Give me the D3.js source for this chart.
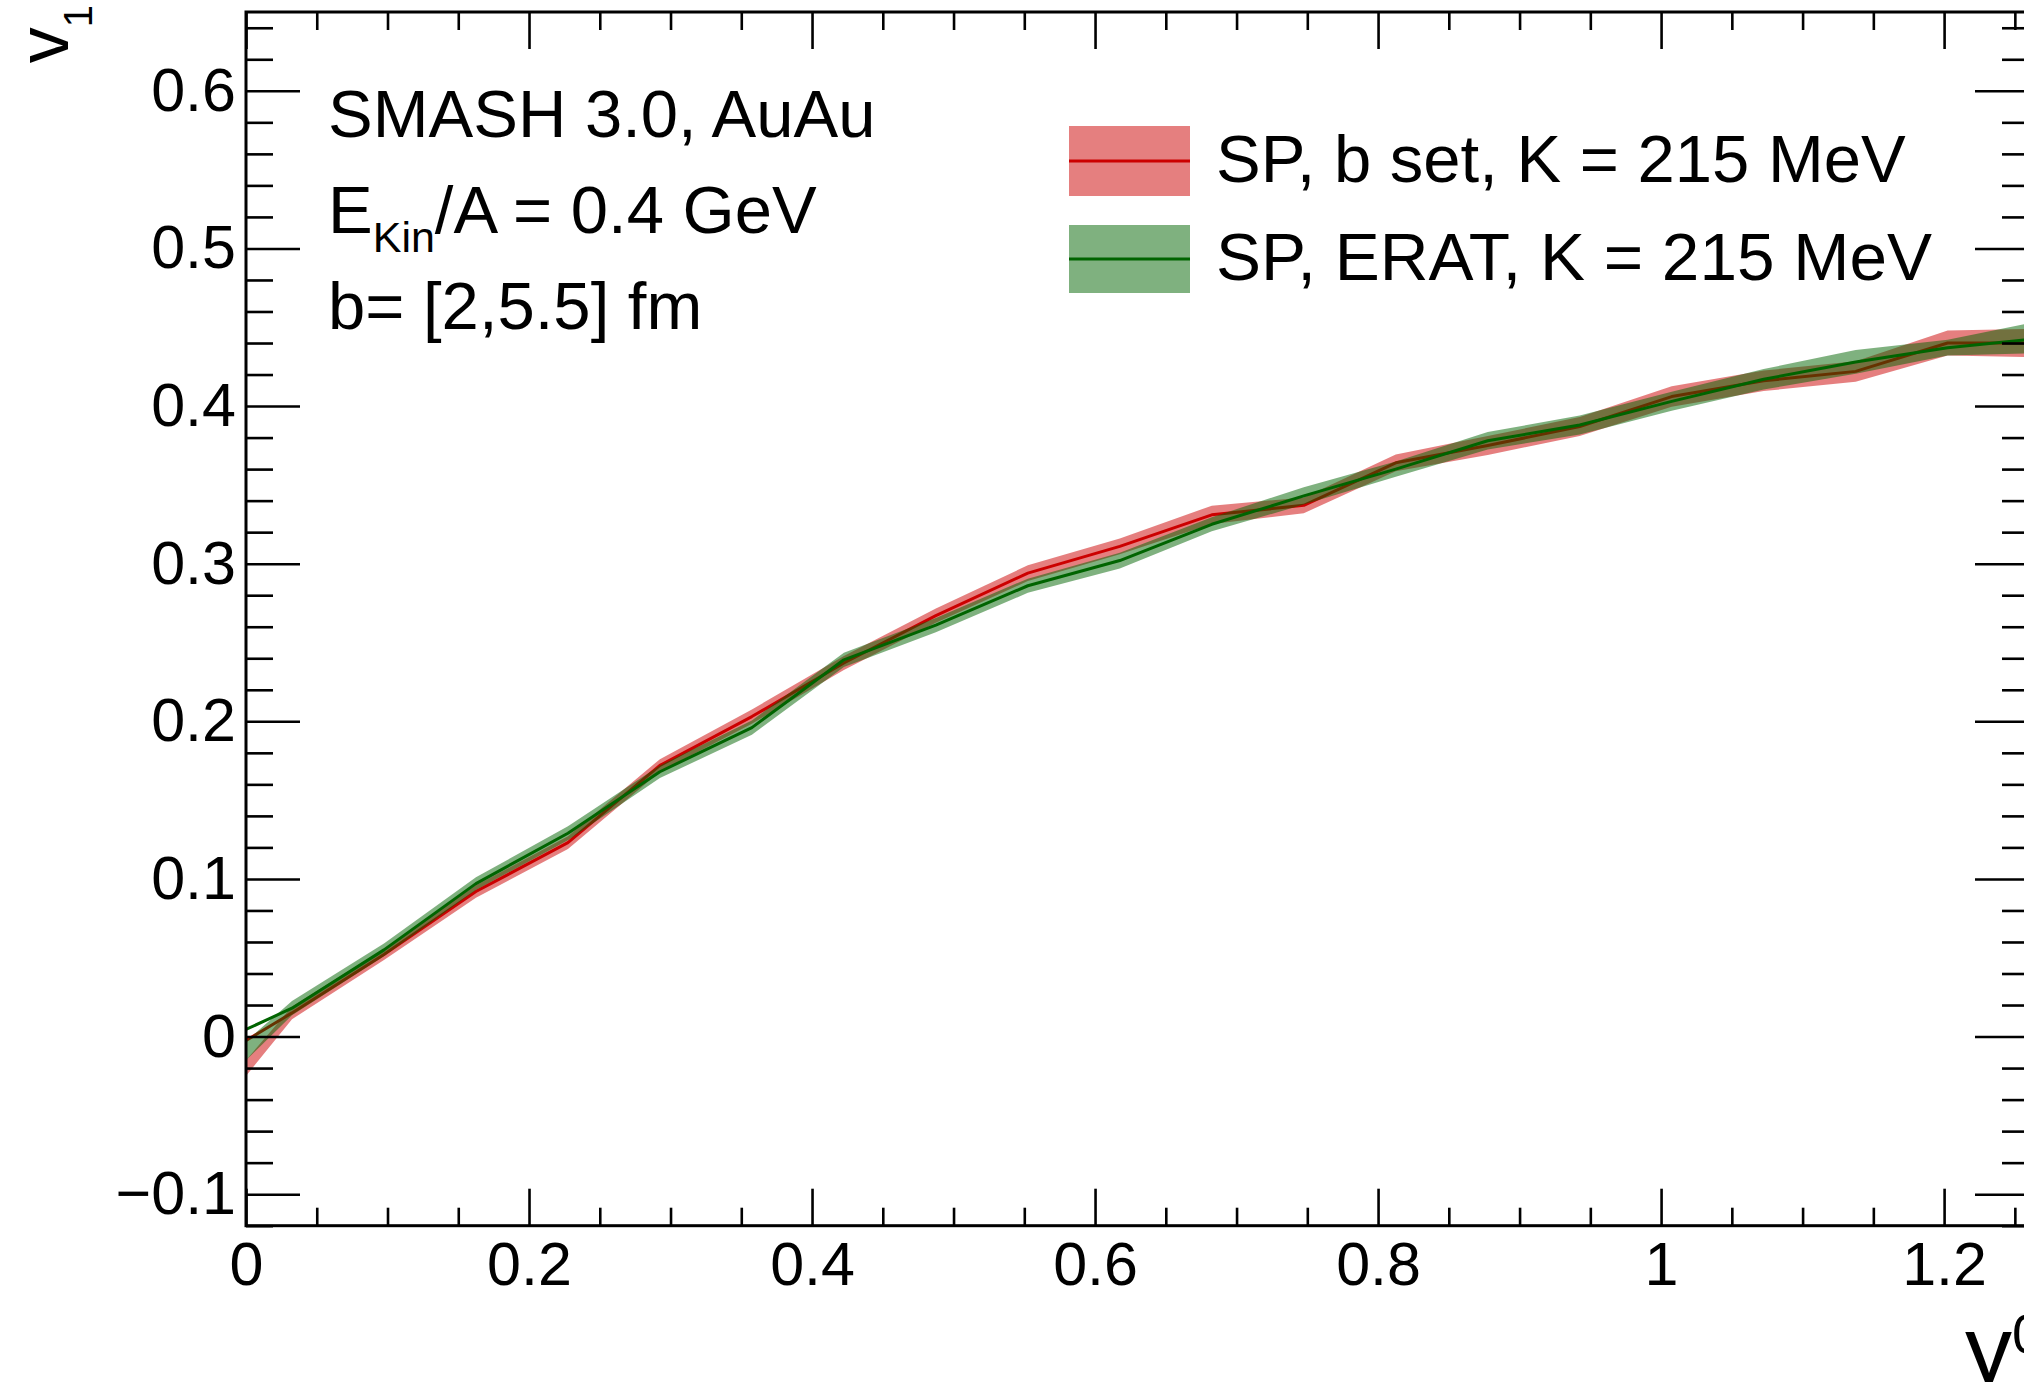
<!DOCTYPE html>
<html><head><meta charset="utf-8">
<script src="https://cdn.jsdelivr.net/npm/d3@7"></script>
<style>
html,body{margin:0;padding:0;background:#fff;}
svg{display:block;}
text{font-family:"Liberation Sans",Arial,Helvetica,sans-serif;fill:#000;}
</style>
</head><body>
<svg id="chart" width="2024" height="1382"></svg>
<script>
// ---- data ----
const rapidity = [-0.0325, 0.0325, 0.0975, 0.1625, 0.2275, 0.2925, 0.3575, 0.4225, 0.4875, 0.5525,
                  0.6175, 0.6825, 0.7475, 0.8125, 0.8775, 0.9425, 1.0075, 1.0725, 1.1375, 1.2025, 1.2675];
const v1BSet  = [-0.020, 0.015, 0.052, 0.092, 0.123, 0.172, 0.203, 0.237, 0.267, 0.294,
                  0.311, 0.331, 0.337, 0.364, 0.375, 0.387, 0.406, 0.416, 0.422, 0.440, 0.440];
const errBSet = [0.005, 0.004, 0.0035, 0.004, 0.004, 0.004, 0.0045, 0.0045, 0.0045, 0.005,
                  0.005, 0.0058, 0.005, 0.0053, 0.006, 0.006, 0.0065, 0.0065, 0.0065, 0.008, 0.009];
const v1Erat  = [-0.009, 0.018, 0.055, 0.097, 0.129, 0.168, 0.196, 0.239, 0.261, 0.286,
                  0.302, 0.325, 0.343, 0.360, 0.378, 0.388, 0.403, 0.417, 0.428, 0.437, 0.443];
const errErat = [0.006, 0.0045, 0.004, 0.004, 0.0045, 0.004, 0.0045, 0.0045, 0.0045, 0.0045,
                  0.005, 0.0045, 0.0055, 0.0048, 0.0055, 0.006, 0.006, 0.0065, 0.0075, 0.005, 0.0095];
const seriesNames = ["SP, b set, K = 215 MeV", "SP, ERAT, K = 215 MeV"];
const xMajorTicks = [0, 0.2, 0.4, 0.6, 0.8, 1.0, 1.2];
const xTickLabels = ["0", "0.2", "0.4", "0.6", "0.8", "1", "1.2"];
const yMajorTicks = [-0.1, 0, 0.1, 0.2, 0.3, 0.4, 0.5, 0.6];
const yTickLabels = ["\u22120.1", "0", "0.1", "0.2", "0.3", "0.4", "0.5", "0.6"];
const infoLines = ["SMASH 3.0, AuAu", "E", "Kin", "/A = 0.4 GeV", "b= [2,5.5] fm"];

// ---- layout ----
const svg = d3.select("#chart");
svg.append("rect").attr("width", 2024).attr("height", 1382).attr("fill", "#fff");
const frame = {left: 246, right: 2029, top: 12, bottom: 1225.7};
const x = d3.scaleLinear().domain([0, 1.26]).range([frame.left, frame.right]);
const xBand = x.copy().clamp(true);
const y = d3.scaleLinear().domain([-0.12, 0.65]).range([frame.bottom, frame.top]);
const font = '"Liberation Sans",Arial,Helvetica,sans-serif';

svg.append("defs").append("clipPath").attr("id", "frameClip")
  .append("rect").attr("x", frame.left).attr("y", frame.top)
  .attr("width", frame.right - frame.left).attr("height", frame.bottom - frame.top);

const series = [
  {v: v1BSet, e: errBSet, line: "#cc0000", fill: "rgba(204,0,0,0.5)"},
  {v: v1Erat, e: errErat, line: "#006400", fill: "rgba(0,100,0,0.5)"}
];
const area = d3.area().x(d => xBand(d.r)).y0(d => y(d.v - d.e)).y1(d => y(d.v + d.e));
const line = d3.line().x(d => x(d.r)).y(d => y(d.v));
const plot = svg.append("g").attr("clip-path", "url(#frameClip)");
series.forEach(s => {
  const pts = rapidity.map((r, i) => ({r, v: s.v[i], e: s.e[i]}));
  plot.append("path").datum(pts).attr("d", area).attr("fill", s.fill).attr("stroke", "none");
  plot.append("path").datum(pts).attr("d", line).attr("fill", "none")
    .attr("stroke", s.line).attr("stroke-width", 3).attr("stroke-linejoin", "round");
});

// ---- axes ----
const xMinor = d3.range(0, 1.2601, 0.05).filter(v => !xMajorTicks.some(m => Math.abs(m - v) < 1e-6));
const yMinor = d3.range(-0.12, 0.6401, 0.02).filter(v => !yMajorTicks.some(m => Math.abs(m - v) < 1e-6));
function style(g, fs) {
  g.select(".domain").remove();
  g.selectAll(".tick line").attr("stroke", "#000").attr("stroke-width", 2.6);
  g.attr("font-family", font).attr("font-size", fs);
  g.selectAll(".tick text").attr("fill", "#000");
}
svg.append("g").attr("transform", `translate(0,${frame.bottom})`)
  .call(d3.axisBottom(x).tickValues(xMajorTicks).tickFormat((d, i) => xTickLabels[i]).tickSize(-37).tickPadding(16))
  .call(g => style(g, 61));
svg.append("g").attr("transform", `translate(0,${frame.bottom})`)
  .call(d3.axisBottom(x).tickValues(xMinor).tickFormat("").tickSize(-18)).call(g => style(g, 10));
svg.append("g").attr("transform", `translate(0,${frame.top})`)
  .call(d3.axisTop(x).tickValues(xMajorTicks).tickFormat("").tickSize(-37)).call(g => style(g, 10));
svg.append("g").attr("transform", `translate(0,${frame.top})`)
  .call(d3.axisTop(x).tickValues(xMinor).tickFormat("").tickSize(-18)).call(g => style(g, 10));
svg.append("g").attr("transform", `translate(${frame.left},0)`)
  .call(d3.axisLeft(y).tickValues(yMajorTicks).tickFormat((d, i) => yTickLabels[i]).tickSize(-54).tickPadding(10))
  .call(g => style(g, 61));
svg.append("g").attr("transform", `translate(${frame.left},0)`)
  .call(d3.axisLeft(y).tickValues(yMinor).tickFormat("").tickSize(-27)).call(g => style(g, 10));
svg.append("g").attr("transform", `translate(${frame.right},0)`)
  .call(d3.axisRight(y).tickValues(yMajorTicks).tickFormat("").tickSize(-54)).call(g => style(g, 10));
svg.append("g").attr("transform", `translate(${frame.right},0)`)
  .call(d3.axisRight(y).tickValues(yMinor).tickFormat("").tickSize(-27)).call(g => style(g, 10));
svg.append("rect").attr("x", frame.left).attr("y", frame.top)
  .attr("width", frame.right - frame.left).attr("height", frame.bottom - frame.top)
  .attr("fill", "none").attr("stroke", "#000").attr("stroke-width", 3);

// ---- axis titles ----
const yt = svg.append("text").attr("transform", "translate(68,5) rotate(-90)")
  .attr("text-anchor", "end").attr("font-size", 72);
yt.append("tspan").text("v");
yt.append("tspan").attr("font-size", 40).attr("dy", 24).text("1");
const xt = svg.append("text").attr("x", 1965).attr("y", 1382).attr("font-size", 94);
xt.append("tspan").text("y");
xt.append("tspan").attr("font-size", 56).attr("dy", -29).text("0");

// ---- info text ----
const info = svg.append("g").attr("font-size", 67);
info.append("text").attr("x", 328).attr("y", 137).text(infoLines[0]);
const t2 = info.append("text").attr("x", 328).attr("y", 233);
t2.append("tspan").text(infoLines[1]);
t2.append("tspan").attr("font-size", 43).attr("dy", 19).text(infoLines[2]);
t2.append("tspan").attr("dy", -19).text(infoLines[3]);
info.append("text").attr("x", 328).attr("y", 329).text(infoLines[4]);

// ---- legend ----
const legendRows = [{y: 126, h: 70}, {y: 225, h: 68}];
const leg = svg.append("g");
series.forEach((s, i) => {
  const r = legendRows[i];
  leg.append("rect").attr("x", 1069).attr("y", r.y).attr("width", 121).attr("height", r.h).attr("fill", s.fill);
  leg.append("line").attr("x1", 1069).attr("x2", 1190).attr("y1", r.y + r.h / 2).attr("y2", r.y + r.h / 2)
    .attr("stroke", s.line).attr("stroke-width", 3);
  leg.append("text").attr("x", 1216).attr("y", r.y + r.h / 2 + 21).attr("font-size", 67 + (i === 1 ? 0.5 : 0)).text(seriesNames[i]);
});
</script>
</body></html>
